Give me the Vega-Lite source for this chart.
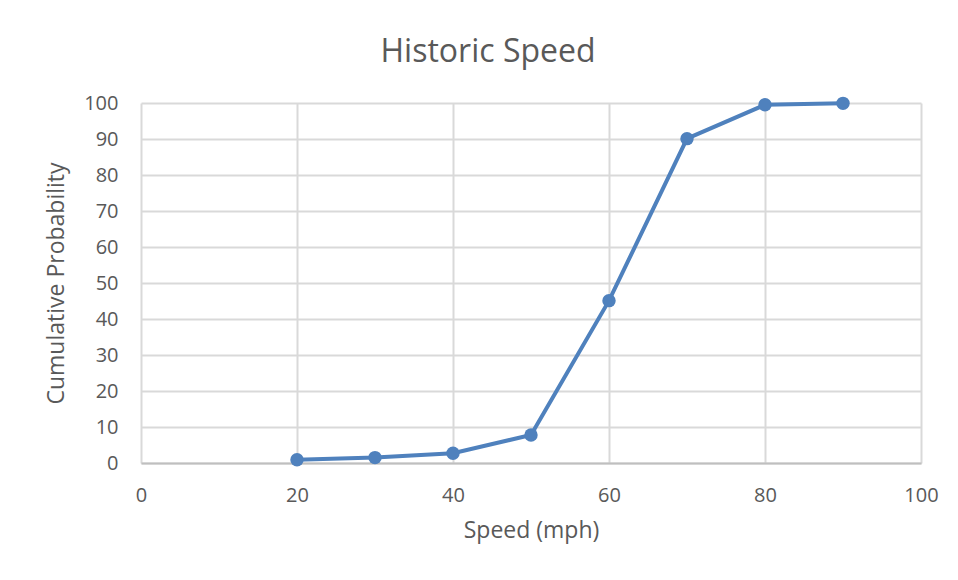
{
  "$schema": "https://vega.github.io/schema/vega-lite/v6.json",
  "width": 780,
  "height": 360,
  "autosize": {"type": "none"},
  "padding": {"left": 141, "top": 103, "right": 37, "bottom": 117},
  "background": "white",
  "title": {
    "text": "Historic Speed",
    "font": "Open Sans",
    "fontSize": 32,
    "fontWeight": "normal",
    "color": "#595959",
    "anchor": "middle",
    "dx": -43,
    "offset": 24
  },
  "data": {
    "values": [
      {"speed": 20, "prob": 0.9},
      {"speed": 30, "prob": 1.5},
      {"speed": 40, "prob": 2.7},
      {"speed": 50, "prob": 7.8},
      {"speed": 60, "prob": 45.1},
      {"speed": 70, "prob": 90.1},
      {"speed": 80, "prob": 99.5},
      {"speed": 90, "prob": 99.9}
    ]
  },
  "mark": {
    "type": "line",
    "color": "#4f81bd",
    "strokeWidth": 4,
    "point": {"filled": true, "size": 180, "color": "#4f81bd", "opacity": 1}
  },
  "encoding": {
    "x": {
      "field": "speed",
      "type": "quantitative",
      "scale": {"domain": [0, 100], "nice": false},
      "axis": {
        "values": [0, 20, 40, 60, 80, 100],
        "title": "Speed (mph)",
        "titleFont": "Open Sans",
        "titleFontSize": 23,
        "titleFontWeight": "normal",
        "titleColor": "#595959",
        "titlePadding": 14,
        "labelFont": "Open Sans",
        "labelFontSize": 20,
        "labelColor": "#595959",
        "labelPadding": 22,
        "labelFlush": false,
        "ticks": false,
        "domainColor": "#bfbfbf",
        "domainWidth": 2,
        "gridColor": "#d9d9d9",
        "gridWidth": 2
      }
    },
    "y": {
      "field": "prob",
      "type": "quantitative",
      "scale": {"domain": [0, 100], "nice": false},
      "axis": {
        "values": [0, 10, 20, 30, 40, 50, 60, 70, 80, 90, 100],
        "title": "Cumulative Probability",
        "titleFont": "Open Sans",
        "titleFontSize": 23,
        "titleFontWeight": "normal",
        "titleColor": "#595959",
        "titlePadding": 15,
        "labelFont": "Open Sans",
        "labelFontSize": 20,
        "labelColor": "#595959",
        "labelPadding": 23,
        "labelFlush": false,
        "ticks": false,
        "domain": false,
        "gridColor": "#d9d9d9",
        "gridWidth": 2
      }
    }
  },
  "config": {
    "view": {"stroke": null}
  }
}
